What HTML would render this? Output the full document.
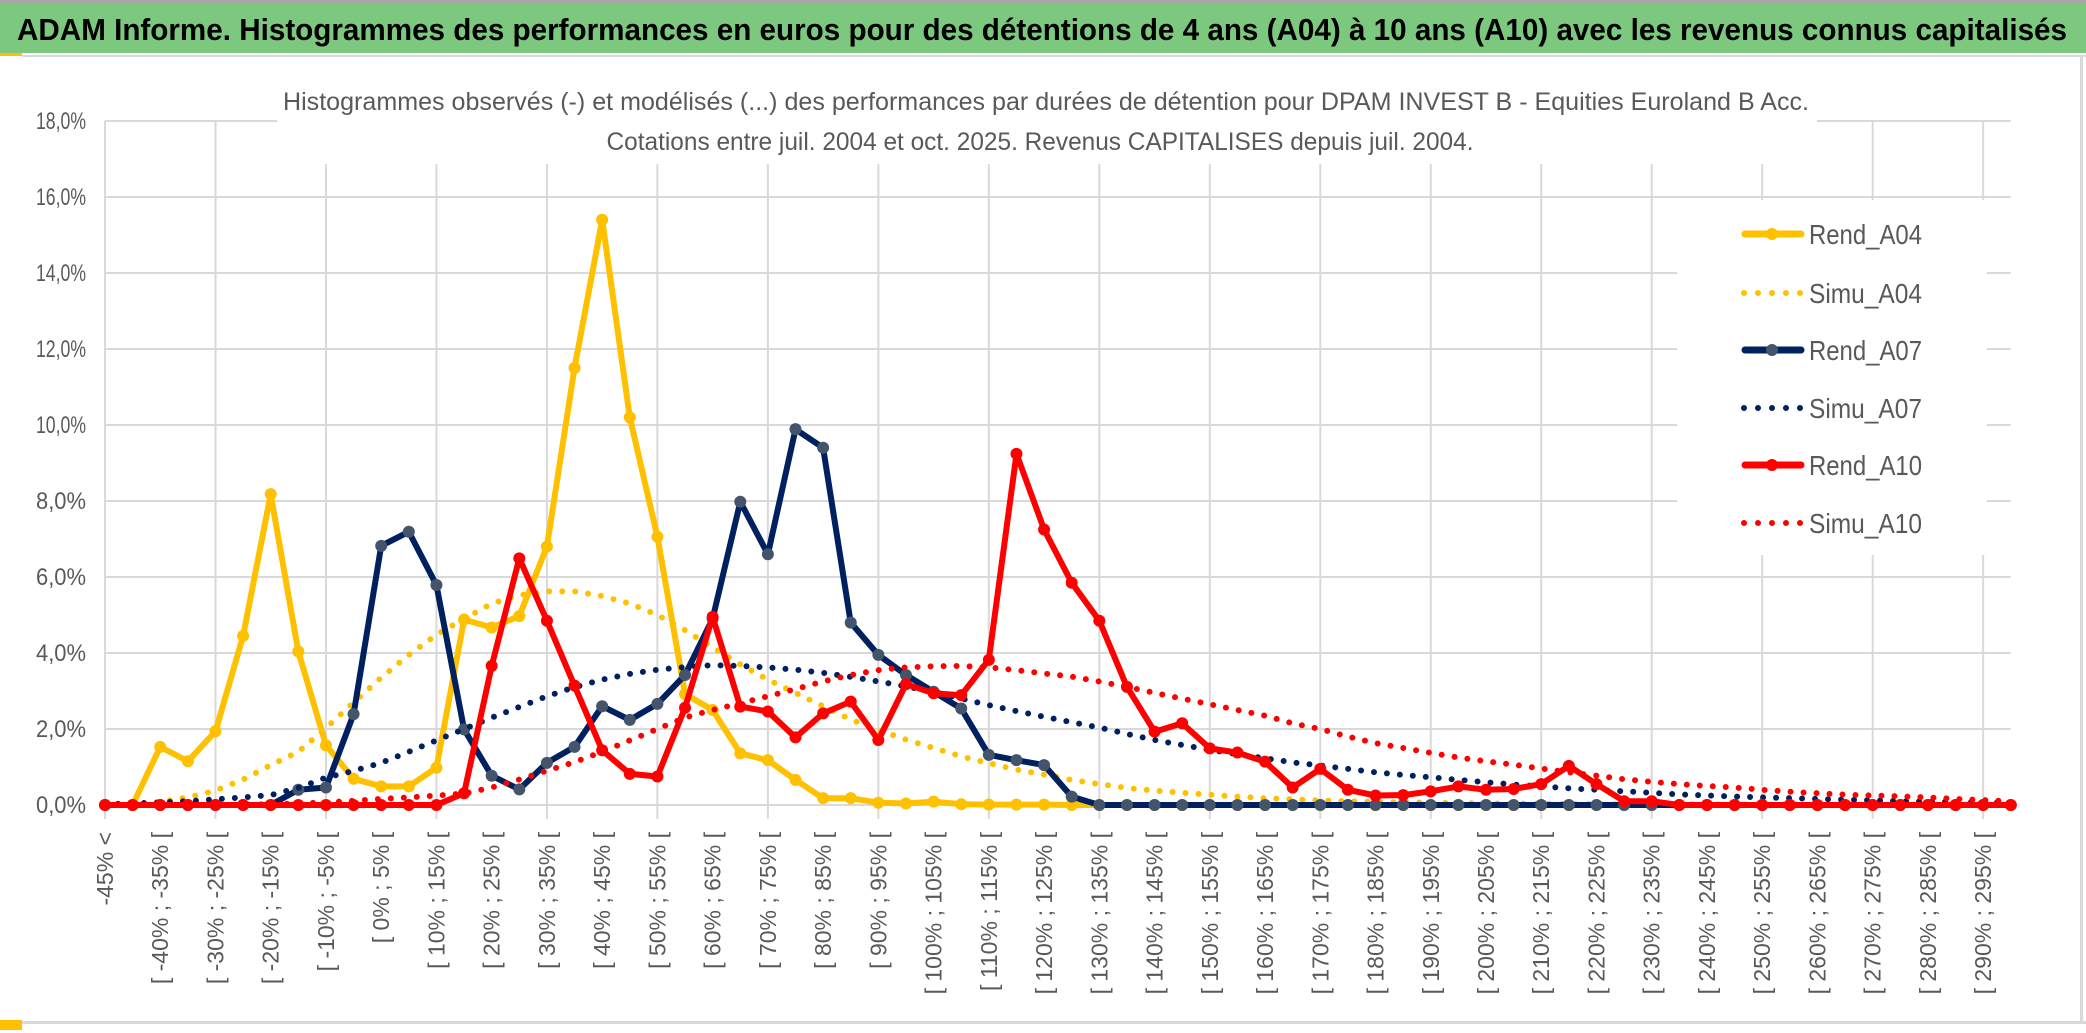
<!DOCTYPE html>
<html><head><meta charset="utf-8"><title>ADAM Informe</title>
<style>
html,body{margin:0;padding:0;background:#fff;}
svg{display:block;}
text{font-family:"Liberation Sans",sans-serif;}
</style></head>
<body>
<svg id="chart" width="2086" height="1033" viewBox="0 0 2086 1033" xmlns="http://www.w3.org/2000/svg">
  <rect x="0" y="0" width="2086" height="1033" fill="#fff"/>
  <rect x="0" y="0" width="2086" height="3" fill="#a6a6a6"/>
  <rect x="0" y="3" width="2086" height="50" fill="#7dc87f"/>
  <rect x="0" y="53" width="22" height="3" fill="#ffc000"/>
  <rect x="22" y="55" width="2064" height="2" fill="#d9d9d9"/>
  <text x="17" y="40" font-size="31" font-weight="bold" fill="#000" textLength="2050" lengthAdjust="spacingAndGlyphs">ADAM Informe. Histogrammes des performances en euros pour des détentions de 4 ans (A04) à 10 ans (A10) avec les revenus connus capitalisés</text>
  <rect x="2080" y="57" width="3" height="966" fill="#d9d9d9"/>
  <rect x="0" y="1021" width="2086" height="3" fill="#d9d9d9"/>
  <rect x="0" y="1020" width="22" height="10" fill="#ffc000"/>
  <g id="grid"></g>
  <g id="ylabels"></g>
  <g id="xlabels"></g>
  <rect x="277" y="84" width="1540" height="80" fill="#fff"/>
  <text x="1046" y="110" font-size="25" fill="#595959" text-anchor="middle" textLength="1526" lengthAdjust="spacingAndGlyphs">Histogrammes observés (-) et modélisés (...) des performances par durées de détention pour DPAM INVEST B - Equities Euroland B Acc.</text>
  <text x="1040" y="150" font-size="25" fill="#595959" text-anchor="middle" textLength="867" lengthAdjust="spacingAndGlyphs">Cotations entre juil. 2004 et oct. 2025. Revenus CAPITALISES depuis juil. 2004.</text>
  <g id="series"></g>
  <g id="legend"></g>
</svg>
<script>
const yTicks = [0,2,4,6,8,10,12,14,16,18];
const rendA04 = [0,0,1.53,1.15,1.94,4.45,8.18,4.04,1.57,0.69,0.49,0.49,0.98,4.88,4.67,4.97,6.8,11.5,15.4,10.2,7.06,2.92,2.5,1.36,1.18,0.66,0.18,0.18,0.06,0.04,0.09,0.02,0.01,0.01,0.01,0,0,0,0,0,0,0,0,0,0,0,0,0,0,0,0,0,0,0,0,0,0,0,0,0,0,0,0,0,0,0,0,0,0,0];
const simuA04 = [0,0.02,0.08,0.2,0.38,0.67,1.05,1.4,2.03,2.7,3.35,3.95,4.48,4.9,5.3,5.52,5.62,5.62,5.5,5.3,5.0,4.6,4.15,3.7,3.3,2.95,2.6,2.25,1.97,1.72,1.5,1.28,1.1,0.93,0.8,0.66,0.55,0.45,0.38,0.32,0.27,0.22,0.18,0.15,0.12,0.1,0.08,0.07,0.06,0.05,0.04,0.04,0.03,0.03,0.02,0.02,0.02,0.02,0.02,0.01,0.01,0.01,0.01,0.01,0.01,0.01,0.01,0.01,0.01,0.01];
const rendA07 = [0,0,0,0,0,0,0,0.4,0.46,2.39,6.82,7.19,5.79,1.99,0.77,0.41,1.11,1.53,2.6,2.24,2.66,3.42,4.9,7.98,6.6,9.89,9.4,4.8,3.95,3.42,2.98,2.54,1.32,1.18,1.05,0.22,0,0,0,0,0,0,0,0,0,0,0,0,0,0,0,0,0,0,0,0,0,0,0,0,0,0,0,0,0,0,0,0,0,0];
const simuA07 = [0.02,0.04,0.07,0.1,0.15,0.2,0.26,0.45,0.72,0.9,1.11,1.4,1.7,2.0,2.3,2.58,2.86,3.1,3.3,3.45,3.56,3.63,3.68,3.66,3.62,3.56,3.48,3.37,3.25,3.12,2.98,2.8,2.63,2.47,2.32,2.18,2.04,1.87,1.71,1.58,1.45,1.34,1.23,1.12,1.04,0.95,0.86,0.79,0.73,0.66,0.6,0.54,0.49,0.44,0.4,0.36,0.32,0.28,0.25,0.22,0.2,0.18,0.16,0.14,0.12,0.1,0.09,0.08,0.07,0.06];
const rendA10 = [0,0,0,0,0,0,0,0,0,0,0,0,0,0.31,3.66,6.49,4.85,3.14,1.44,0.82,0.75,2.56,4.95,2.59,2.46,1.78,2.41,2.72,1.71,3.18,2.94,2.89,3.82,9.24,7.25,5.85,4.85,3.11,1.93,2.15,1.49,1.38,1.14,0.46,0.95,0.4,0.25,0.26,0.36,0.49,0.4,0.42,0.55,1.03,0.55,0.1,0.1,0,0,0,0,0,0,0,0,0,0,0,0,0];
const simuA10 = [0,0,0,0,0,0.01,0.02,0.04,0.07,0.11,0.16,0.2,0.25,0.3,0.46,0.67,0.9,1.13,1.4,1.7,2.0,2.3,2.5,2.68,2.86,3.05,3.25,3.42,3.55,3.62,3.65,3.66,3.62,3.55,3.46,3.38,3.25,3.11,2.95,2.8,2.65,2.5,2.35,2.15,2.0,1.8,1.63,1.5,1.37,1.25,1.15,1.06,0.96,0.86,0.77,0.68,0.61,0.55,0.5,0.46,0.4,0.35,0.31,0.27,0.25,0.23,0.2,0.16,0.13,0.1];
const seriesNames = ["Rend_A04","Simu_A04","Rend_A07","Simu_A07","Rend_A10","Simu_A10"];

const categories = ["-45% <"];
for (let k = 1; k < 70; k++) { const a = -50 + 5*k; categories.push("[ " + a + "% ; " + (a+5) + "% ["); }

const NS = "http://www.w3.org/2000/svg";
const X0 = 105, XSTEP = 27.62, Y0 = 805, YPER = 38;
function xs(i){ return X0 + i*XSTEP; }
function ys(v){ return Y0 - v*YPER; }
function mk(tag, attrs, parent){ const e = document.createElementNS(NS, tag); for (const k in attrs) e.setAttribute(k, attrs[k]); parent.appendChild(e); return e; }

const grid = document.getElementById('grid');
const xRight = xs(categories.length - 1);
yTicks.forEach(t => {
  const l = mk('line', {x1:X0, x2:xRight, y1:ys(t), y2:ys(t), stroke:'#d9d9d9', 'stroke-width':2}, grid);
  
  
  const tx = mk('text', {x:86, y:ys(t)+8, 'font-size':24, fill:'#595959', 'text-anchor':'end', textLength:50, lengthAdjust:'spacingAndGlyphs'}, document.getElementById('ylabels'));
  tx.textContent = t.toFixed(1).replace('.', ',') + '%';
  
  
});
for (let i = 0; i < categories.length; i += 4) {
  const l = mk('line', {x1:xs(i), x2:xs(i), y1:ys(18), y2:ys(0)+14, stroke:'#d9d9d9', 'stroke-width':2}, grid);
  
  
}
const xl = document.getElementById('xlabels');
for (let i = 0; i < categories.length; i += 2) {
  const x = xs(i) + 8, y = 832;
  const t = mk('text', {x:x, y:y, 'font-size':23, fill:'#595959', 'text-anchor':'end', transform:'rotate(-90 ' + x + ' ' + y + ')'}, xl);
  t.textContent = categories[i];
  
  
}

const sg = document.getElementById('series');
function pts(arr){ return arr.map((v,i) => xs(i).toFixed(1) + ',' + ys(v).toFixed(1)).join(' '); }
function drawSimu(arr, color, name){
  const p = mk('polyline', {points:pts(arr), fill:'none', stroke:color, 'stroke-width':6, 'stroke-linecap':'round', 'stroke-dasharray':'0 13'}, sg);
  
  
}
function drawRend(arr, color, mcolor, name){
  const g = mk('g', {}, sg);
  
  
  const p = mk('polyline', {points:pts(arr), fill:'none', stroke:color, 'stroke-width':6, 'stroke-linejoin':'round'}, g);
  
  
  arr.forEach((v,i) => {
    const c = mk('circle', {cx:xs(i), cy:ys(v), r:6, fill:mcolor}, g);
    
    
  });
}
drawRend(rendA04, '#ffc000', '#ffc000', 'rend-a04');
drawSimu(simuA04, '#ffc000', 'simu-a04');
drawRend(rendA07, '#002060', '#44546a', 'rend-a07');
drawSimu(simuA07, '#002060', 'simu-a07');
drawRend(rendA10, '#ff0000', '#ff0000', 'rend-a10');
drawSimu(simuA10, '#ff0000', 'simu-a10');

const lg = document.getElementById('legend');
const lbg = mk('rect', {x:1677, y:200, width:310, height:355, fill:'#fff'}, lg);


const legColors = ['#ffc000','#ffc000','#002060','#002060','#ff0000','#ff0000'];
const legMarks = ['#ffc000',null,'#44546a',null,'#ff0000',null];
const legY = [234,293,350,408,465,523];
seriesNames.forEach((n, k) => {
  const g = mk('g', {}, lg);
  
  
  const y = legY[k];
  if (legMarks[k]) {
    mk('line', {x1:1745, x2:1801, y1:y, y2:y, stroke:legColors[k], 'stroke-width':7, 'stroke-linecap':'round'}, g);
    mk('circle', {cx:1772, cy:y, r:6, fill:legMarks[k]}, g);
  } else {
    mk('line', {x1:1744, x2:1802, y1:y, y2:y, stroke:legColors[k], 'stroke-width':6, 'stroke-linecap':'round', 'stroke-dasharray':'0 14'}, g);
  }
  const t = mk('text', {x:1809, y:y+10, 'font-size':28, fill:'#595959', textLength:113, lengthAdjust:'spacingAndGlyphs'}, g);
  t.textContent = n;
  
  
});
</script>
</body></html>
